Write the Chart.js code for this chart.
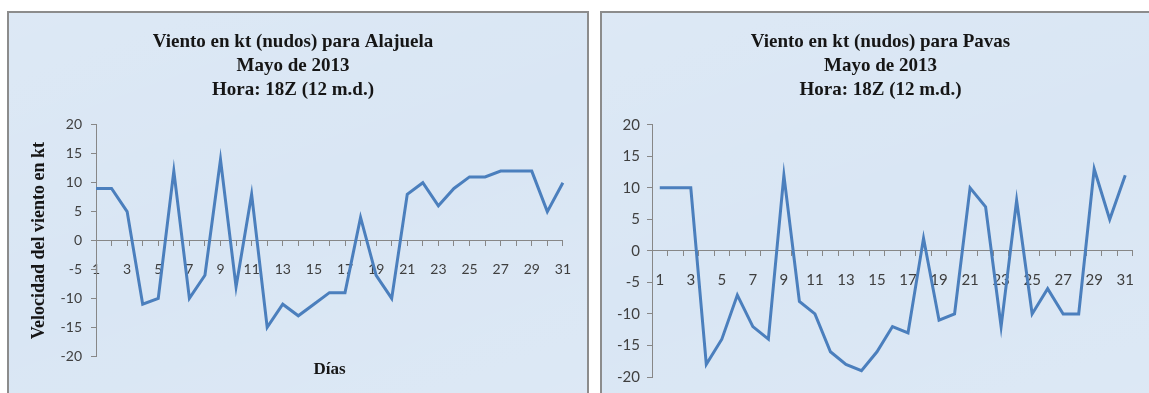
<!DOCTYPE html>
<html lang="es">
<head>
<meta charset="utf-8">
<title>Viento en kt (nudos) - Mayo de 2013</title>
<script src="https://cdn.jsdelivr.net/npm/chart.js@4/dist/chart.umd.min.js"></script>
<style>
  html, body { margin: 0; padding: 0; background: #ffffff; width: 1149px; height: 393px; overflow: hidden; }
  .panel {
    position: absolute;
    top: 11px;
    border: 2px solid #8c8c8c;
    border-bottom: none;
    background-color: #d9e6f4;
    background-image: linear-gradient(160deg, rgba(255,255,255,0.10), rgba(255,255,255,0) 50%, rgba(255,255,255,0.10));
    overflow: hidden;
  }
  #panelA { left: 7px; width: 578px; height: 390px; }
  #panelB { left: 600px; width: 560px; height: 390px; border-right: none; }
  canvas { display: block; }
</style>
</head>
<body>
<div class="panel" id="panelA"><canvas id="chartA" width="578" height="380"></canvas></div>
<div class="panel" id="panelB"><canvas id="chartB" width="547" height="380"></canvas></div>
<script>
// Días del mes (mayo de 2013)
const days = ['1','2','3','4','5','6','7','8','9','10','11','12','13','14','15','16',
              '17','18','19','20','21','22','23','24','25','26','27','28','29','30','31'];

// Días que llevan rótulo en el eje horizontal
const shownDays = ['1','3','5','7','9','11','13','15','17','19','21','23','25','27','29','31'];

// Velocidad del viento (kt) a las 18Z
const alajuelaKt = [9, 9, 5, -11, -10, 12, -10, -6, 14, -8, 8, -15, -11, -13, -11, -9,
                    -9, 4, -6, -10, 8, 10, 6, 9, 11, 11, 12, 12, 12, 5, 10];
const pavasKt = [10, 10, 10, -18, -14, -7, -12, -14, 12, -8, -10, -16, -18, -19, -16, -12,
                 -13, 2, -11, -10, 10, 7, -12, 8, -10, -6, -10, -10, 13, 5, 12];

// Marcas del eje vertical
const yTicks = [-20, -15, -10, -5, 0, 5, 10, 15, 20];

const titleAlajuela = ['Viento en kt (nudos) para Alajuela', 'Mayo de 2013', 'Hora: 18Z (12 m.d.)'];
const titlePavas = ['Viento en kt (nudos) para Pavas', 'Mayo de 2013', 'Hora: 18Z (12 m.d.)'];
const yAxisTitle = 'Velocidad del viento en kt';
const xAxisTitle = 'Días';

const LINE_BLUE = '#4b7fbd';
const AXIS_GREY = '#878787';
const TICK_TEXT = '#3f3f3f';
const SERIF = '"Liberation Serif", "DejaVu Serif", serif';
const SANS = 'Lato, "Liberation Sans", sans-serif';

function windChart(canvasId, cfg) {
  return new Chart(document.getElementById(canvasId), {
    type: 'line',
    data: {
      labels: days,
      datasets: [{
        data: cfg.values,
        borderColor: LINE_BLUE,
        borderWidth: 3,
        pointRadius: 0,
        pointHoverRadius: 0,
        tension: 0,
        fill: false
      }]
    },
    options: {
      responsive: false,
      animation: false,
      events: [],
      layout: { padding: cfg.padding },
      plugins: {
        legend: { display: false },
        tooltip: { enabled: false },
        title: {
          display: true,
          text: cfg.title,
          color: '#161616',
          font: { family: SERIF, size: 19, weight: 'bold', lineHeight: 1.26 },
          padding: { top: 17, bottom: 23 }
        },
        subtitle: cfg.xTitle ? {
          display: true,
          position: 'bottom',
          fullSize: false,
          text: cfg.xTitle,
          color: '#161616',
          font: { family: SERIF, size: 17, weight: 'bold', lineHeight: 1.1 },
          padding: { top: 4, bottom: 0 }
        } : { display: false }
      },
      scales: {
        x: {
          type: 'category',
          position: { y: 0 },
          offset: cfg.between,
          border: { display: true, color: AXIS_GREY, width: 1 },
          grid: {
            display: true,
            offset: cfg.between,
            drawOnChartArea: false,
            drawTicks: true,
            tickLength: 5,
            color: AXIS_GREY
          },
          ticks: {
            autoSkip: false,
            maxRotation: 0,
            padding: cfg.xTickPad,
            color: TICK_TEXT,
            font: { family: SANS, size: cfg.tickSize },
            callback: function (value) {
              const lbl = this.getLabelForValue(value);
              return shownDays.includes(lbl) ? lbl : '';
            }
          }
        },
        y: {
          min: yTicks[0],
          max: yTicks[yTicks.length - 1],
          afterFit: function (scale) { scale.width = cfg.yWidth; },
          afterBuildTicks: function (scale) { scale.ticks = yTicks.map(v => ({ value: v })); },
          border: { display: true, color: AXIS_GREY, width: 1 },
          grid: {
            display: true,
            drawOnChartArea: false,
            drawTicks: true,
            tickLength: 5,
            color: AXIS_GREY
          },
          ticks: {
            padding: cfg.yTickPad,
            color: TICK_TEXT,
            font: { family: SANS, size: cfg.tickSize }
          },
          title: cfg.yTitle ? {
            display: true,
            text: cfg.yTitle,
            color: '#161616',
            font: { family: SERIF, size: 18, weight: 'bold', lineHeight: 1.2 },
            padding: { top: 6, bottom: 4 }
          } : { display: false }
        }
      }
    }
  });
}

windChart('chartA', {
  values: alajuelaKt,
  title: titleAlajuela,
  yTitle: yAxisTitle,
  xTitle: xAxisTitle,
  between: false,
  padding: { left: 14, right: 24, top: 0, bottom: 14 },
  yWidth: 73,
  yTickPad: 9,
  xTickPad: 16,
  tickSize: 14
});

windChart('chartB', {
  values: pavasKt,
  title: titlePavas,
  yTitle: null,
  xTitle: null,
  between: true,
  padding: { left: 14, right: 4, top: 0, bottom: 15 },
  yWidth: 36,
  yTickPad: 7,
  xTickPad: 15,
  tickSize: 15
});
</script>
</body>
</html>
